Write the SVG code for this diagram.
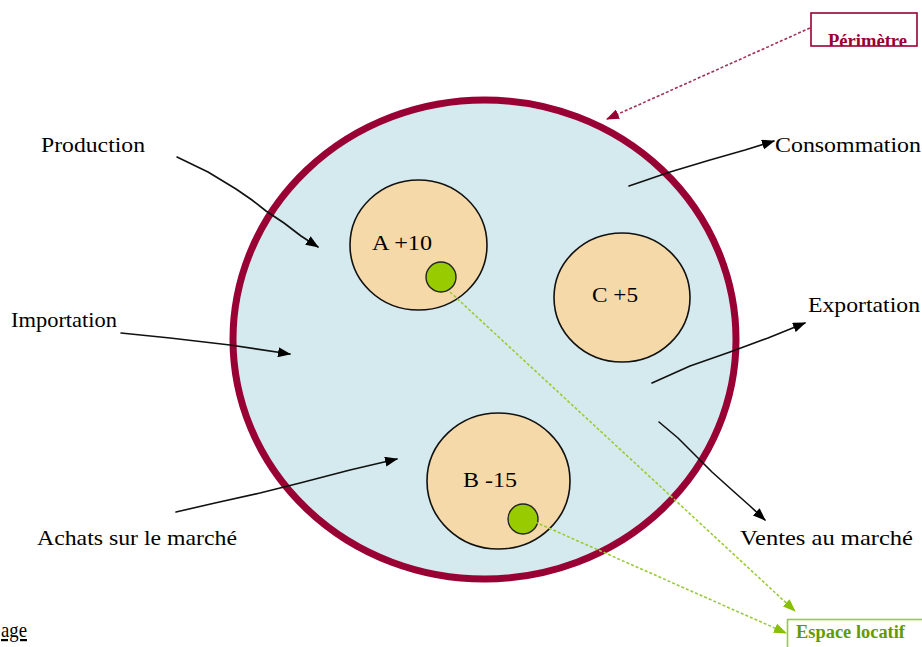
<svg xmlns="http://www.w3.org/2000/svg" width="922" height="647" viewBox="0 0 922 647">
  <style>
    .lbl { font-family: "Liberation Serif", "Times New Roman", serif; font-size: 22px; fill: #000; }
    .arrow { fill: none; stroke: #111; stroke-width: 1.6; stroke-linecap: round; stroke-linejoin: round; marker-end: url(#headBlack); }
    .unit { fill: #f5d9a9; stroke: #111; stroke-width: 1.6; }
    .spot { fill: #99cc00; stroke: #222; stroke-width: 1.4; }
    .greenLink { fill: none; stroke: #99cc33; stroke-width: 1.6; stroke-dasharray: 3 2; marker-end: url(#headGreen); }
    .redLink { fill: none; stroke: #a3305a; stroke-width: 1.6; stroke-dasharray: 3 2; marker-end: url(#headRed); }
  </style>
  <defs>
    <marker id="headBlack" markerUnits="userSpaceOnUse" markerWidth="14" markerHeight="10" refX="12" refY="5" orient="auto">
      <path d="M0,0 L13,5 L0,10 Z" fill="#000"/>
    </marker>
    <marker id="headGreen" markerUnits="userSpaceOnUse" markerWidth="14" markerHeight="10" refX="12" refY="5" orient="auto">
      <path d="M0,0 L13,5 L0,10 Z" fill="#88c000"/>
    </marker>
    <marker id="headRed" markerUnits="userSpaceOnUse" markerWidth="14" markerHeight="10" refX="12" refY="5" orient="auto">
      <path d="M0,0 L13,5 L0,10 Z" fill="#990033"/>
    </marker>
    <clipPath id="perimClip">
      <rect x="811" y="13" width="106" height="33"/>
    </clipPath>
  </defs>

  <rect width="922" height="647" fill="#fff"/>

  <!-- outer perimeter -->
  <g id="perimeter">
    <ellipse cx="484.5" cy="339.5" rx="251.5" ry="239.5" fill="#d5eaee" stroke="#990033" stroke-width="7"/>
  </g>

  <!-- units inside the perimeter -->
  <g id="unitA">
    <ellipse class="unit" cx="418.5" cy="245" rx="68.5" ry="65"/>
    <text class="lbl" x="372" y="250" textLength="60" lengthAdjust="spacingAndGlyphs">A +10</text>
  </g>
  <g id="unitC">
    <ellipse class="unit" cx="622" cy="297.5" rx="68" ry="64.5"/>
    <text class="lbl" x="592" y="302" textLength="46" lengthAdjust="spacingAndGlyphs">C +5</text>
  </g>
  <g id="unitB">
    <ellipse class="unit" cx="498.5" cy="481" rx="71.5" ry="68"/>
    <text class="lbl" x="463" y="487" textLength="54" lengthAdjust="spacingAndGlyphs">B -15</text>
  </g>
  <g id="spotA">
    <circle class="spot" cx="441" cy="277" r="15"/>
  </g>
  <g id="spotB">
    <circle class="spot" cx="523" cy="519" r="15"/>
  </g>

  <!-- flows and callout links -->
  <g id="connectors">
    <path class="arrow" d="M177,157 L208,172 L236,189 L252,200 L266,211 L284,223 L301,236 L318,247"/>
    <path class="arrow" d="M629,186 L670,172 L710,160 L745,150 L774,141"/>
    <path class="arrow" d="M121,333 L170,338 L230,345 L290,354"/>
    <path class="arrow" d="M652,383 L690,366 L730,352 L768,338 L805,323"/>
    <path class="arrow" d="M176,512 L215,503 L260,493 L300,483 L350,470 L397,459"/>
    <path class="arrow" d="M659,422 L678,438 L698,458 L712,472 L732,490 L750,506 L765,520"/>
    <path class="greenLink" d="M450,292 L795,611"/>
    <path class="greenLink" d="M535,522 L786,633"/>
    <path class="redLink" d="M810,28 L607,119"/>
  </g>

  <!-- flow labels -->
  <g id="labelProduction"><text class="lbl" x="41" y="152" textLength="104" lengthAdjust="spacingAndGlyphs">Production</text></g>
  <g id="labelConsommation"><text class="lbl" x="775" y="152" textLength="146" lengthAdjust="spacingAndGlyphs">Consommation</text></g>
  <g id="labelImportation"><text class="lbl" x="11" y="327" textLength="106" lengthAdjust="spacingAndGlyphs">Importation</text></g>
  <g id="labelExportation"><text class="lbl" x="808" y="312" textLength="112" lengthAdjust="spacingAndGlyphs">Exportation</text></g>
  <g id="labelAchats"><text class="lbl" x="37" y="545" textLength="200" lengthAdjust="spacingAndGlyphs">Achats sur le marché</text></g>
  <g id="labelVentes"><text class="lbl" x="740" y="545" textLength="173" lengthAdjust="spacingAndGlyphs">Ventes au marché</text></g>

  <!-- callout boxes -->
  <g id="calloutPerimetre">
    <text x="828" y="47" clip-path="url(#perimClip)" font-family="Liberation Serif, serif" font-size="18" font-weight="bold" fill="#990033" textLength="79" lengthAdjust="spacingAndGlyphs">Périmètre</text>
    <rect x="811" y="13" width="106" height="33" fill="none" stroke="#990033" stroke-width="1.6"/>
  </g>
  <g id="calloutEspace">
    <rect x="787.5" y="619.5" width="140" height="40" fill="#fff" stroke="#99cc33" stroke-width="1.6"/>
    <text x="796" y="638" font-family="Liberation Serif, serif" font-size="18" font-weight="bold" fill="#669900" textLength="109" lengthAdjust="spacingAndGlyphs">Espace locatif</text>
  </g>

  <!-- page text fragment -->
  <text class="lbl" x="1" y="637" text-decoration="underline" textLength="26" lengthAdjust="spacingAndGlyphs">age</text>
</svg>
